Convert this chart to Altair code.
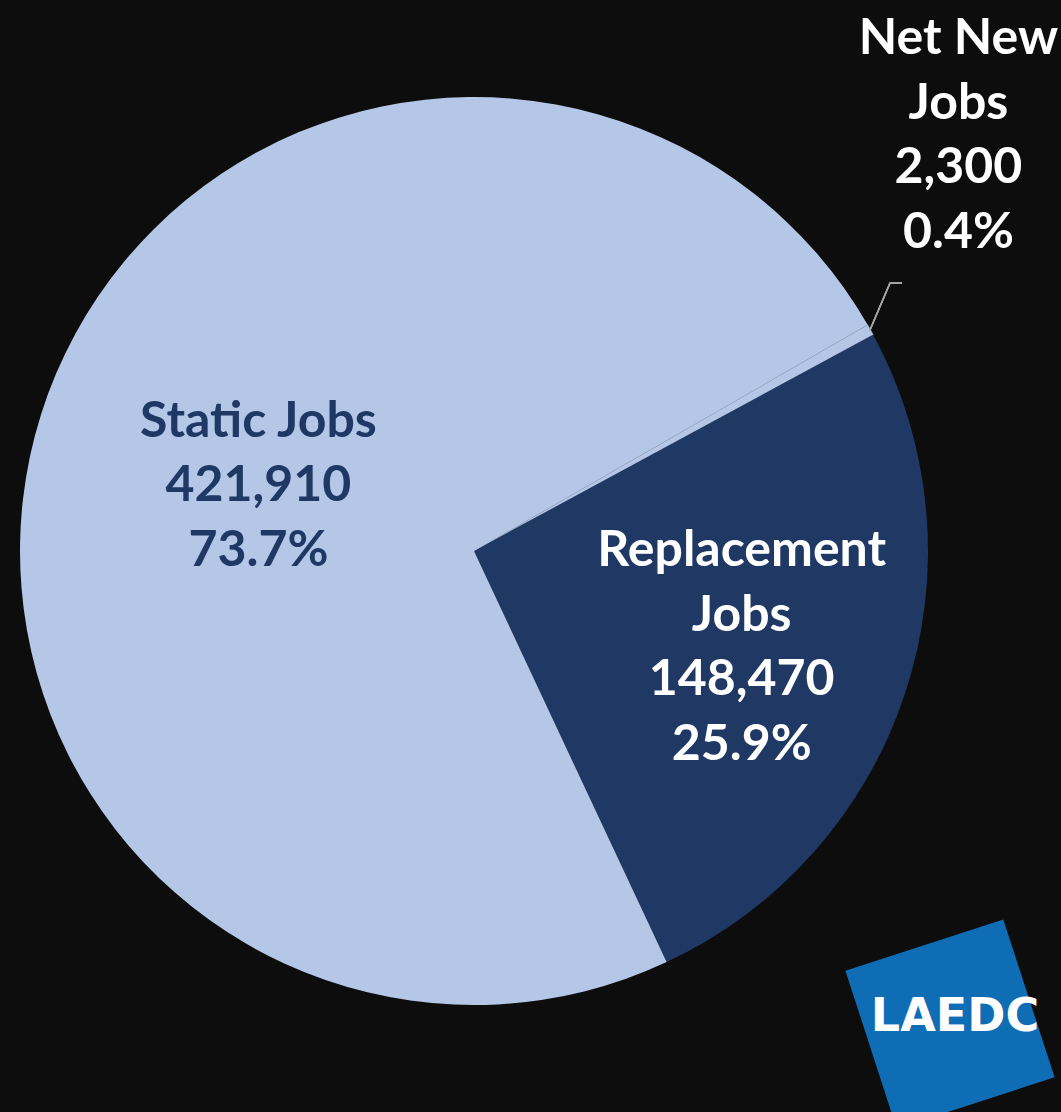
import math
import altair as alt
import pandas as pd

# ---- data ----
categories = ["Net New Jobs", "Replacement Jobs", "Static Jobs"]
names = ["Net New\nJobs", "Replacement\nJobs", "Static Jobs"]
jobs = [2300, 148470, 421910]
pct_labels = ["0.4%", "25.9%", "73.7%"]
order_idx = [0, 1, 2]

df = pd.DataFrame({
    "cat": categories,
    "jobs": jobs,
    "idx": order_idx,
    "label": [f"{n}\n{v:,}\n{p}" for n, v, p in zip(names, jobs, pct_labels)],
})

W, H = 1061, 1112
CX, CY, R = 474, 551, 454
start = math.radians(60.12)
LH = 64.5

theta = alt.Theta("jobs:Q", stack=True,
                  scale=alt.Scale(range=[start, start + 2 * math.pi]))
base = alt.Chart(df).encode(
    theta=theta,
    order=alt.Order("idx:Q"),
    x=alt.value(CX),
    y=alt.value(CY),
)

arcs = base.mark_arc(radius=R).encode(
    color=alt.Color("cat:N", legend=None,
                    scale=alt.Scale(domain=categories,
                                    range=["#B4C7E7", "#203864", "#B4C7E7"])),
    stroke=alt.condition("datum.cat == 'Net New Jobs'", alt.value("#8A9AB5"), alt.value(None)),
    strokeWidth=alt.condition("datum.cat == 'Net New Jobs'", alt.value(0.8), alt.value(0)),
)

FONT = "Lato"


def label_layer(cat, radius, dx, dy, color, nlines):
    return base.transform_calculate(
        lbl=f"datum.cat == '{cat}' ? datum.label : ''"
    ).mark_text(
        radius=radius, dx=dx, dy=dy - (nlines - 1) / 2 * LH, font=FONT, fontSize=50,
        fontWeight="bold", lineBreak="\n", lineHeight=LH, align="center",
        baseline="middle", color=color,
    ).encode(text="lbl:N")


lab_static = label_layer("Static Jobs", 225, -1, 3, "#203864", 3)
lab_repl = label_layer("Replacement Jobs", 285, -3, 8, "#FFFFFF", 4)
lab_new = label_layer("Net New Jobs", 628, -64, -109, "#FFFFFF", 4)

# leader line for the small slice
lead1 = alt.Chart(df).mark_rule(color="#A6A6A6", strokeWidth=1.5).encode(
    x=alt.value(870), y=alt.value(330), x2=alt.value(890), y2=alt.value(283))
lead2 = alt.Chart(df).mark_rule(color="#A6A6A6", strokeWidth=1.5).encode(
    x=alt.value(889.5), y=alt.value(283), x2=alt.value(902), y2=alt.value(283))

# logo
logo_sq = alt.Chart(df.head(1)).mark_point(
    shape="square", filled=True, opacity=1, color="#0F6DB5", size=166 * 166, angle=342
).encode(x=alt.value(950), y=alt.value(1024))
logo_txt = alt.Chart(df.head(1)).mark_text(
    text="LAEDC", font="DejaVu Sans", fontSize=46, fontWeight="bold",
    color="#FFFFFF", align="center", baseline="middle"
).encode(x=alt.value(955), y=alt.value(1017))

chart = alt.layer(
    arcs, lab_static, lab_repl, lab_new, lead1, lead2, logo_sq, logo_txt
).properties(
    width=W, height=H, padding=0, autosize="none", background="#0D0D0D"
).configure_view(stroke=None)

chart.save("out.html", embed_options={"renderer": "svg", "actions": False})
